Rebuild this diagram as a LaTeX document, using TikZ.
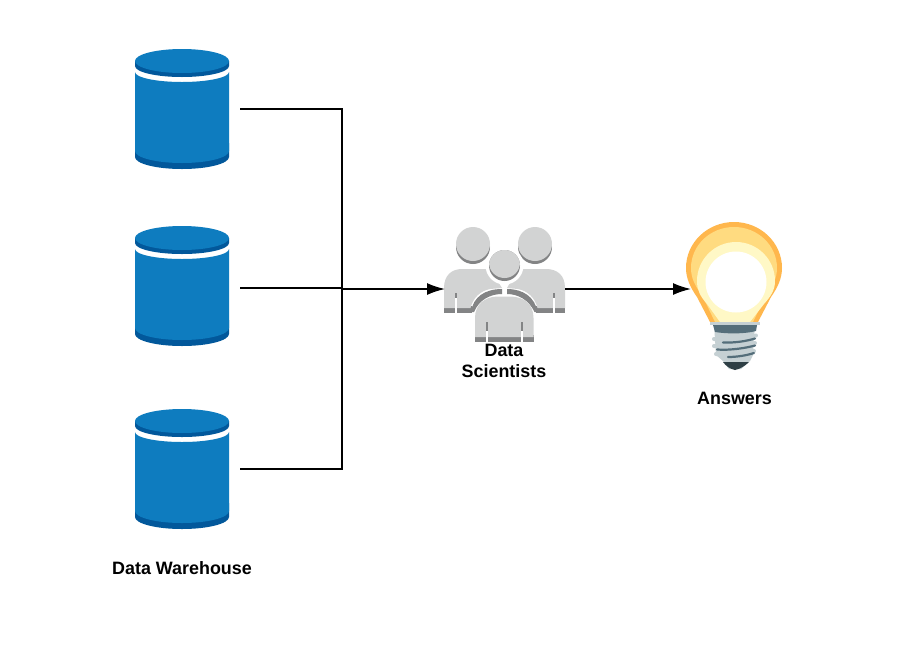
\documentclass[tikz,border=0pt]{standalone}
\usepackage{fontspec}
\setmainfont{Liberation Sans}
\usetikzlibrary{arrows.meta}
\definecolor{dbblue}{HTML}{0E7CBF}
\definecolor{dbdark}{HTML}{02589B}
\definecolor{pplight}{HTML}{D2D3D3}
\definecolor{ppdark}{HTML}{838485}
\definecolor{bulbO}{HTML}{FFB74D}
\definecolor{bulbM}{HTML}{FFDB80}
\definecolor{bulbL}{HTML}{FFF8C6}
\definecolor{baseL}{HTML}{C5D0D3}
\definecolor{baseD}{HTML}{546E7A}
\definecolor{baseK}{HTML}{2E3F45}
\tikzset{
  x=1pt,y=-1pt,
  anchorbox/.style={inner sep=0pt,outer sep=0pt,minimum width=#1},
  lbl/.style={font=\fontsize{17.9}{21}\selectfont\bfseries,align=center,inner sep=0pt,text=black},
  conn/.style={line width=1.6pt,black},
  flow/.style={conn,-{Latex[length=18pt,width=12pt]}},
  slit/.style={white,line width=2pt},
  cylinder pic/.pic={
    % dark bottom rim
    \fill[dbdark] (135,143) -- (229,143) -- (229,157) arc[start angle=0,end angle=-180,x radius=47,y radius=-12] -- cycle;
    % body
    \fill[dbblue] (135,72) arc[start angle=180,end angle=360,x radius=47,y radius=-10] -- (229,151)
       arc[start angle=0,end angle=-180,x radius=47,y radius=-12] -- cycle;
    % top rim and disc
    \fill[dbdark] (135,61) -- (229,61) -- (229,66) arc[start angle=0,end angle=-180,x radius=47,y radius=-11] -- cycle;
    \fill[dbblue] (182,61) ellipse[x radius=47,y radius=12];
  },
}
\begin{document}
\begin{tikzpicture}
\useasboundingbox (0,0) rectangle (916,649);
\fill[white] (0,0) rectangle (916,649);

% cylinders
\pic at (0,0) {cylinder pic};
\pic at (0,177) {cylinder pic};
\pic at (0,360) {cylinder pic};

% people: side figures
\fill[ppdark] (473,247) circle[radius=17];
\fill[pplight] (473,244) circle[radius=17];
\fill[ppdark] (535,247) circle[radius=17];
\fill[pplight] (535,244) circle[radius=17];
\fill[ppdark] (444,306) rectangle (472,312.5);
\fill[ppdark] (536,306) rectangle (565,312.5);
\fill[pplight] (444,308) -- (444,288) .. controls (444,275) and (452,269) .. (462,269)
  -- (490,269) -- (502,288) -- (490,289) .. controls (480,291) and (473,298) .. (470.5,308) -- cycle;
\fill[pplight] (565,308) -- (565,288) .. controls (565,275) and (557,269) .. (546,269)
  -- (518,269) -- (507,288) -- (518,289) .. controls (528,291) and (535,298) .. (537.5,308) -- cycle;
\fill[ppdark] (471,312) .. controls (473,297) and (485,289) .. (502,289) -- (502,294)
  .. controls (490,294) and (479,300) .. (474,312) -- cycle;
\fill[ppdark] (537.5,312) .. controls (535,297) and (523,289) .. (507,289) -- (507,294)
  .. controls (518,294) and (529,300) .. (534.5,312) -- cycle;
% central head
\fill[white] (504.5,265.5) circle[radius=19];
\fill[ppdark] (504.5,265.5) circle[radius=15.5];
\begin{scope}
  \clip (504.5,265.5) circle[radius=15.5];
  \fill[pplight] (504.5,262.5) circle[radius=15.5];
\end{scope}
% central body
\fill[ppdark] (475,335) rectangle (533.5,342);
\fill[pplight] (475,337) -- (475,318) .. controls (475,304) and (485,297) .. (497,296.5)
  -- (511,296.5) .. controls (524,297) and (533.5,304) .. (533.5,318) -- (533.5,337) -- cycle;
% slits
\draw[slit] (455.5,297) -- (455.5,312.5);
\draw[slit] (553.5,297) -- (553.5,312.5);
\draw[slit] (487,331) -- (487,342);
\draw[slit] (521.5,331) -- (521.5,342);
\draw[ppdark,line width=2pt] (455.5,293) -- (455.5,298);
\draw[ppdark,line width=2pt] (553.5,293) -- (553.5,298);
\draw[ppdark,line width=2pt] (487,322) -- (487,331);
\draw[ppdark,line width=2pt] (521.5,322) -- (521.5,331);

% bulb
\fill[bulbO] (710,322) -- (697,297) .. controls (690,287) and (686,278) .. (686,268)
  arc[start angle=180,end angle=0,x radius=48,y radius=-46]
  .. controls (782,278) and (778,287) .. (771,297) -- (758,322) -- cycle;
\fill[bulbM] (715,322) -- (702,295) .. controls (695,286) and (691,278) .. (691,268)
  arc[start angle=180,end angle=0,x radius=43,y radius=-41]
  .. controls (777,278) and (773,286) .. (766,295) -- (753,322) -- cycle;
\fill[bulbL] (720,322) -- (707,304) .. controls (700,296) and (697,290) .. (697,281)
  arc[start angle=180,end angle=0,x radius=39,y radius=-39]
  .. controls (775,290) and (771,296) .. (764,304) -- (750,322) -- cycle;
\fill[white] (736,282) circle[radius=30.5];
% bulb base
\fill[baseL] (714,324) -- (756,324) -- (754,335) -- (753,355) -- (750,361) -- (741,369) -- (729,369) -- (723,361) -- (716,355) -- cycle;
\fill[baseD] (713,325) -- (757,325) -- (756,331) .. controls (745,334) and (727,334) .. (715,332) -- cycle;
\fill[baseL] (710,322) rectangle (760,325);
\draw[baseL,line width=4pt,line cap=round] (714,339) .. controls (728,340) and (745,338) .. (756,335.5);
\draw[baseL,line width=4pt,line cap=round] (714,346) .. controls (728,347) and (745,345) .. (755,343);
\draw[baseL,line width=4pt,line cap=round] (716,354) .. controls (728,355) and (745,353) .. (754,351);
\draw[baseD,line width=2.2pt,line cap=round] (723,342.5) .. controls (735,343) and (747,341) .. (755,338.5);
\draw[baseD,line width=2.2pt,line cap=round] (717,349.5) .. controls (730,350.5) and (746,348) .. (755,345.5);
\draw[baseD,line width=2.2pt,line cap=round] (728,357) .. controls (738,357) and (748,355) .. (754,353);
\fill[baseK] (723,362) -- (749,362) .. controls (745,366) and (740,369) .. (735,370) .. controls (730,369) and (726,366) .. (723,362) -- cycle;

% icon anchors
\node[anchorbox=1pt] (db1) at (240,109) {};
\node[anchorbox=1pt] (db2) at (240,288) {};
\node[anchorbox=1pt] (db3) at (240,469) {};
\node[anchorbox=1pt] (ppl) at (445,289) {};
\node[anchorbox=1pt] (pplout) at (565,289) {};
\node[anchorbox=1pt] (bulb) at (691,289) {};
\coordinate (j) at (342,289);

\draw[conn] (db1.center) -| (j);
\draw[conn] (db2.center) -- (342,288);
\draw[conn] (db3.center) -| (j);
\draw[flow] (j) -- (ppl.center);
\draw[flow] (pplout.center) -- (bulb.center);

% labels
\node[lbl] (lscient) at (504,361) {Data\\Scientists};
\node[lbl] (lans) at (734.5,398) {Answers};
\node[lbl] (ldw) at (182,568) {Data Warehouse};
\end{tikzpicture}
\end{document}
